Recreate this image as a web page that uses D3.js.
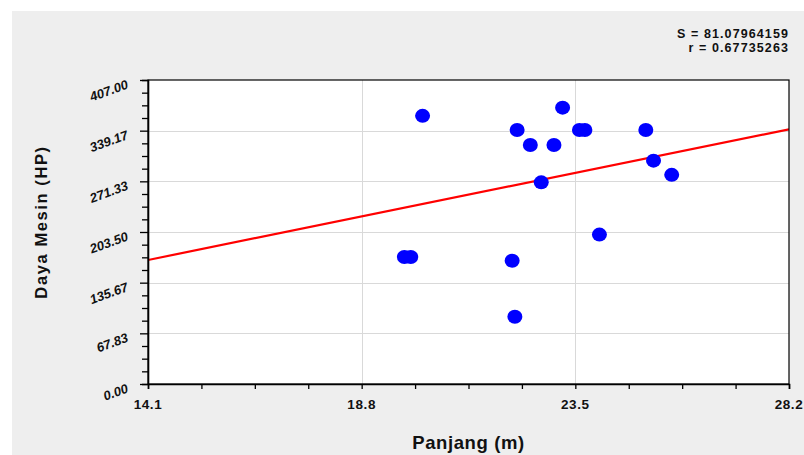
<!DOCTYPE html>
<html>
<head>
<meta charset="utf-8">
<script src="https://cdn.jsdelivr.net/npm/d3@7"></script>
<style>
  html, body { margin: 0; padding: 0; background: #ffffff; }
  svg { display: block; }
  text { font-family: "Liberation Sans", Arial, sans-serif; }
</style>
</head>
<body>
<svg id="chart" width="804" height="455"></svg>
<script>
// ---- data ----
const lengths = [20.14, 22.22, 22.51, 23.03, 23.22, 23.59, 23.71, 25.05, 25.22, 25.62, 22.75, 24.03, 19.74, 19.88, 22.11, 22.17];
const power   = [359, 340, 320, 320, 370, 340, 340, 340, 299, 280, 270, 200, 170, 170, 165, 90];
const fitX = [14.1, 28.2];
const fitY = [166, 341];
const xTickValues = [14.1, 18.8, 23.5, 28.2];
const xTickLabels = ["14.1", "18.8", "23.5", "28.2"];
const yTickValues = [0, 67.83, 135.67, 203.5, 271.33, 339.17, 407];
const yTickLabels = ["0.00", "67.83", "135.67", "203.50", "271.33", "339.17", "407.00"];
const statLines = ["S = 81.07964159", "r = 0.67735263"];
const xTitle = "Panjang (m)";
const yTitle = "Daya Mesin (HP)";

// ---- layout ----
const L = 148, R = 789, T = 80, B = 384;
const svg = d3.select("#chart");

svg.append("rect").attr("x", 12).attr("y", 11).attr("width", 804 - 12).attr("height", 455 - 11).attr("fill", "#eeeeee");

const x = d3.scaleLinear().domain([14.1, 28.2]).range([L, R]);
const y = d3.scaleLinear().domain([0, 407]).range([B, T]);

svg.append("rect").attr("x", L).attr("y", T).attr("width", R - L).attr("height", B - T).attr("fill", "#ffffff");

// gridlines
svg.append("g").selectAll("line").data(yTickValues.slice(1, -1)).join("line")
  .attr("x1", L).attr("x2", R).attr("y1", d => Math.round(y(d)) + 0.5).attr("y2", d => Math.round(y(d)) + 0.5)
  .attr("stroke", "#d9d9d9").attr("stroke-width", 1);
svg.append("g").selectAll("line").data(xTickValues.slice(1, -1)).join("line")
  .attr("y1", T).attr("y2", B).attr("x1", d => Math.round(x(d)) + 0.5).attr("x2", d => Math.round(x(d)) + 0.5)
  .attr("stroke", "#d9d9d9").attr("stroke-width", 1);

// regression line
const clipId = "plotclip";
svg.append("clipPath").attr("id", clipId).append("rect").attr("x", L).attr("y", T).attr("width", R - L).attr("height", B - T);
svg.append("path")
  .datum(fitX.map((v, i) => [v, fitY[i]]))
  .attr("d", d3.line().x(d => x(d[0])).y(d => y(d[1])))
  .attr("stroke", "#ff0000").attr("stroke-width", 2.2).attr("fill", "none")
  .attr("clip-path", `url(#${clipId})`);

// points
svg.append("g").selectAll("ellipse").data(lengths.map((v, i) => [v, power[i]])).join("ellipse")
  .attr("cx", d => x(d[0])).attr("cy", d => y(d[1]))
  .attr("rx", 7.5).attr("ry", 7)
  .attr("fill", "#0000ff");

// frame
svg.append("rect").attr("x", L).attr("y", T).attr("width", R - L).attr("height", B - T)
  .attr("fill", "none").attr("stroke", "#000").attr("stroke-width", 1.2);

// x axis ticks
const xMinor = d3.range(0, 13).map(i => 14.1 + i * 14.1 / 12);
const xAxis = d3.axisBottom(x).tickValues(xMinor).tickSize(5).tickFormat("");
const gx = svg.append("g").attr("transform", `translate(0,${B})`).call(xAxis);
gx.select(".domain").attr("stroke-width", 1.6);
gx.selectAll(".tick line").attr("stroke-width", 1.3);
svg.append("g").selectAll("text").data(xTickValues).join("text")
  .attr("x", d => x(d)).attr("y", 409)
  .attr("text-anchor", "middle")
  .attr("font-size", 13.5).attr("font-weight", "bold").attr("letter-spacing", 0.6)
  .attr("fill", "#111")
  .text((d, i) => xTickLabels[i]);

// y axis ticks
const yMinor = d3.range(0, 25).map(i => i * 407 / 24);
const yAxis = d3.axisLeft(y).tickValues(yMinor).tickSize(6).tickFormat("");
const gy = svg.append("g").attr("transform", `translate(${L},0)`).call(yAxis);
gy.select(".domain").attr("stroke-width", 1.6);
gy.selectAll(".tick line").attr("stroke-width", 1.3)
  .attr("x2", (d, i) => (i % 4 === 0 ? -8 : -6));
svg.append("g").selectAll("text").data(yTickValues).join("text")
  .attr("transform", d => `translate(${L - 19},${y(d) + 8}) rotate(-20)`)
  .attr("text-anchor", "end")
  .attr("font-size", 13).attr("font-weight", "bold").attr("font-style", "italic")
  .attr("fill", "#111")
  .text((d, i) => yTickLabels[i]);

// titles
svg.append("text").attr("x", (L + R) / 2).attr("y", 449)
  .attr("text-anchor", "middle").attr("font-size", 18.5).attr("font-weight", "bold")
  .attr("letter-spacing", 0.6).attr("fill", "#111").text(xTitle);
svg.append("text").attr("transform", `translate(47,222) rotate(-90)`)
  .attr("text-anchor", "middle").attr("font-size", 16.5).attr("font-weight", "bold")
  .attr("letter-spacing", 1.6).attr("fill", "#111").text(yTitle);

// stats
svg.append("g").selectAll("text").data(statLines).join("text")
  .attr("x", R).attr("y", (d, i) => 37.5 + i * 14.2)
  .attr("text-anchor", "end").attr("font-size", 12.5).attr("font-weight", "bold")
  .attr("letter-spacing", 1.1).attr("fill", "#111").text(d => d);
</script>
</body>
</html>
